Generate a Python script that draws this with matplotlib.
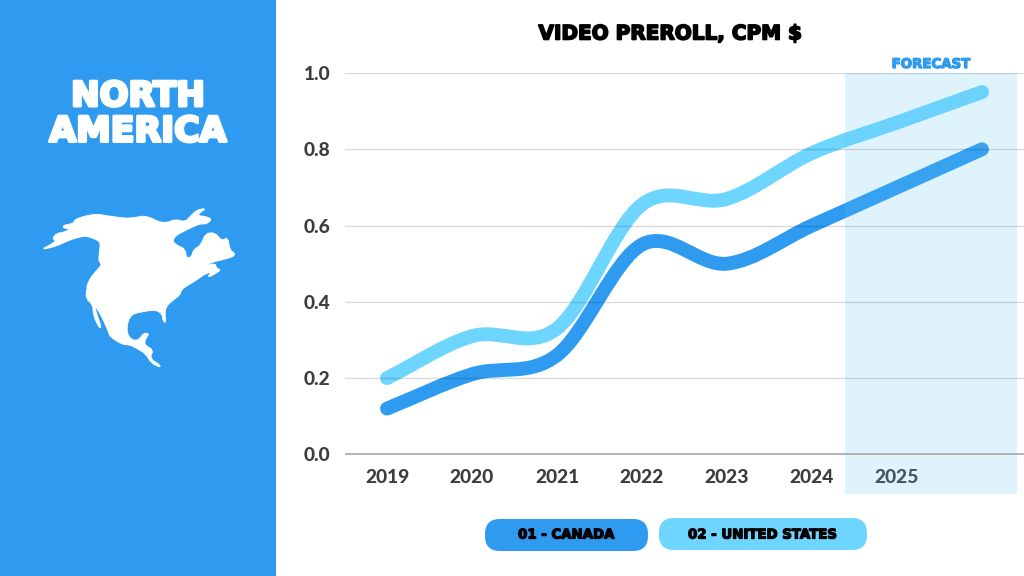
import numpy as np
import matplotlib
matplotlib.use("Agg")
import matplotlib.pyplot as plt
import matplotlib.patheffects as pe
from matplotlib.patches import FancyBboxPatch, PathPatch, Polygon, Rectangle
from matplotlib.path import Path

years = ["2019", "2020", "2021", "2022", "2023", "2024", "2025", ""]
canada = [0.12, 0.21, 0.26, 0.55, 0.50, 0.60, 0.70, 0.80]
united_states = [0.20, 0.31, 0.33, 0.655, 0.67, 0.79, 0.87, 0.95]
y_ticks = [0.0, 0.2, 0.4, 0.6, 0.8, 1.0]

BLUE = "#2e9bf0"
LIGHT = "#6ed5ff"
DARK = "#3d3d3d"
HEAVY = "DejaVu Sans"
FONT = "Lato"

north_coast = [
    (18, 149), (50, 132), (62, 122), (52, 115), (65, 100), (85, 97), (105, 88), (85, 84), (85, 76),
    (115, 70), (120, 58), (150, 48), (185, 42), (215, 47), (250, 52), (280, 55), (315, 50),
]
east_coast = [
    (20, 48), (45, 52), (70, 65), (95, 68), (120, 58), (150, 65), (165, 50), (185, 30), (213, 25),
    (195, 38), (190, 47), (215, 50), (230, 58), (215, 72), (195, 72), (175, 80), (150, 92), (125, 105),
    (112, 122), (125, 135), (150, 147), (155, 175), (170, 170), (175, 150), (197, 135), (212, 100),
    (240, 98), (260, 122), (278, 112), (285, 150), (300, 160), (295, 170), (260, 180), (230, 187),
    (212, 198), (240, 190), (245, 205), (258, 210), (235, 225), (218, 232), (228, 215), (205, 225),
    (185, 240), (160, 255), (140, 268),
]
south_coast = [
    (300, 30), (280, 45), (258, 65), (255, 90), (258, 112), (250, 110), (245, 85), (225, 75), (200, 78),
    (165, 85), (150, 95), (140, 125), (145, 155), (165, 168), (180, 160), (190, 145), (208, 145),
    (195, 165), (195, 180), (220, 195), (210, 220), (240, 240), (240, 247), (215, 235), (195, 205),
    (170, 190), (150, 180), (125, 178), (90, 155), (85, 140), (70, 105), (50, 68), (45, 70), (65, 130),
    (55, 125), (40, 90), (38, 60), (18, 40), (20, 10), (28, 0),
]
west_coast = [
    (153, 265), (165, 235), (190, 205), (200, 195), (190, 180), (195, 145), (195, 125), (175, 115),
    (150, 108), (120, 115), (100, 122), (60, 140),
]


def smooth_path(values):
    # catmull-rom segments written as bezier curves, straight out of the end points
    n = len(values)
    verts = [(0, values[0])]
    codes = [Path.MOVETO]
    for i in range(n - 1):
        if i == 0:
            c1 = values[0] + (values[1] - values[0]) / 3
        else:
            c1 = values[i] + (values[i + 1] - values[i - 1]) / 6
        if i == n - 2:
            c2 = values[i + 1] - (values[i + 1] - values[i]) / 3
        else:
            c2 = values[i + 1] - (values[i + 2] - values[i]) / 6
        verts += [(i + 1 / 3, c1), (i + 2 / 3, c2), (i + 1, values[i + 1])]
        codes += [Path.CURVE4] * 3
    return Path(verts, codes)


def round_corners(points):
    # one pass of corner cutting so the outline is less blocky
    p = np.array(points)
    q = np.roll(p, -1, axis=0)
    out = np.empty((len(p) * 2, 2))
    out[0::2] = 0.75 * p + 0.25 * q
    out[1::2] = 0.25 * p + 0.75 * q
    return out


fig = plt.figure(figsize=(10.24, 5.76), dpi=100, facecolor="white")

# page layer in pixels
bg = fig.add_axes([0, 0, 1, 1])
bg.set_xlim(0, 1024)
bg.set_ylim(576, 0)
bg.axis("off")
bg.add_patch(Rectangle((0, 0), 276, 576, color=BLUE, lw=0))

pts = []
for coast, ox, oy in [(north_coast, 35, 200), (east_coast, 135, 200), (south_coast, 80, 285), (west_coast, 35, 200)]:
    pts += [(ox + x / 3, oy + y / 3) for x, y in coast]
bg.add_patch(Polygon(round_corners(pts), closed=True, fc="white", ec="white", lw=0.6, joinstyle="round"))


def stroked(x, y, s, size, color, stroke):
    t = bg.text(x, y, s, fontsize=size, color=color, family=HEAVY, fontweight="bold",
                ha="center", va="center_baseline", zorder=10)
    t.set_path_effects([pe.withStroke(linewidth=stroke, foreground=color)])
    return t


stroked(138, 93, "NORTH", 24.5, "white", 2.2)
stroked(138, 128, "AMERICA", 25, "white", 2.2)
stroked(670.5, 32, "VIDEO PREROLL, CPM $", 14.4, "black", 1.2)
stroked(931, 63, "FORECAST", 9.6, BLUE, 0.9)

bg.add_patch(FancyBboxPatch((485, 519), 163, 32, boxstyle="round,pad=0,rounding_size=15", fc=BLUE, ec="none"))
bg.add_patch(FancyBboxPatch((659, 518), 208, 32, boxstyle="round,pad=0,rounding_size=15", fc=LIGHT, ec="none"))
stroked(566.5, 533.5, "01 - CANADA", 9.6, "black", 0.9)
stroked(763, 533.5, "02 - UNITED STATES", 9.6, "black", 0.9)

# chart layer
ax = fig.add_axes([344.5 / 1024, 1 - 494 / 576, 680 / 1024, 421 / 576])
ax.patch.set_alpha(0)
ax.set_xlim(-0.5, 7.5)
ax.set_ylim(-0.104, 1.0)
for s in ax.spines.values():
    s.set_visible(False)

for series, color in [(canada, BLUE), (united_states, LIGHT)]:
    ax.add_patch(PathPatch(smooth_path(series), fc="none", ec=color, lw=10, capstyle="round",
                           joinstyle="round", zorder=2, clip_on=False))

ax.axvspan(5.388, 7.41, color=(95 / 255, 195 / 255, 245 / 255), alpha=0.2, lw=0, zorder=3)
for v in y_ticks[1:]:
    ax.axhline(v, color="black", alpha=0.14, lw=1, zorder=4)
ax.axhline(0, color="#a8a8a8", lw=1.2, zorder=4)

ax.set_xticks(range(len(years)))
ax.set_xticklabels(years)
ax.tick_params(axis="x", length=0, pad=-18)
ax.set_yticks(y_ticks)
ax.set_yticklabels([f"{v:.1f}" for v in y_ticks])
ax.tick_params(axis="y", length=0, pad=10)
for t in ax.get_xticklabels() + ax.get_yticklabels():
    t.set_fontsize(13.8)
    t.set_family(FONT)
    t.set_fontweight("black")
    t.set_color(DARK)
    t.set_zorder(6)

fig.savefig("out.png", dpi=100)
